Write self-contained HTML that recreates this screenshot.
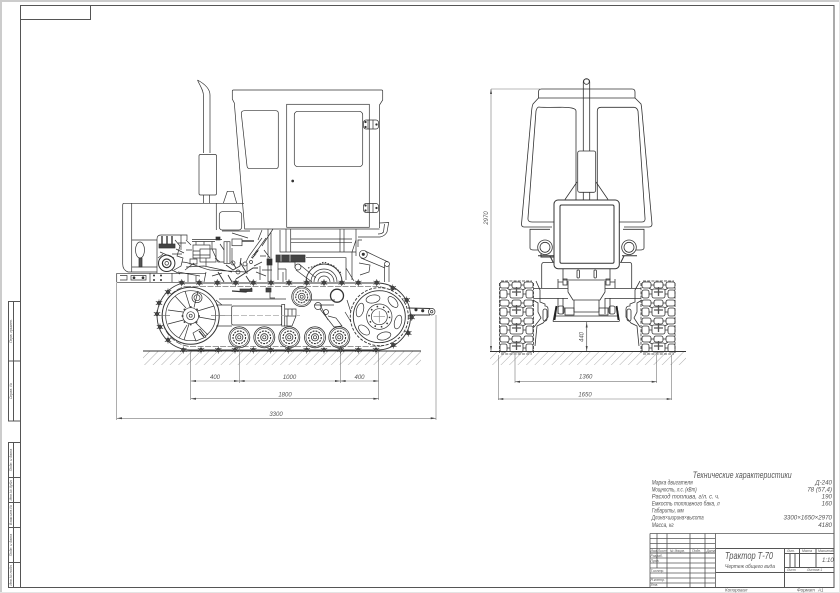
<!DOCTYPE html>
<html lang="ru"><head><meta charset="utf-8"><title>Трактор Т-70</title>
<style>html,body{margin:0;padding:0;background:#fff}svg{display:block;filter:blur(.3px)}text{font-family:"Liberation Sans","Noto Sans CJK SC",sans-serif;font-style:italic;stroke:none;fill:#555}</style></head>
<body>
<svg xmlns="http://www.w3.org/2000/svg" width="840" height="593" viewBox="0 0 840 593">
<defs>
<pattern id="h" width="6" height="6" patternUnits="userSpaceOnUse" patternTransform="rotate(45)"><line x1="0" y1="0" x2="0" y2="6" stroke="#999" stroke-width=".8"/></pattern>
<g id="b"><circle r="1.800" fill="#444"/><path d="M-3.200-1.800 3.200 1.800M-3.200 1.800 3.200-1.800M0-3.500V3.500" stroke="#444" stroke-width=".7"/></g>
<g id="rw" fill="none" stroke="#333"><circle r="10.500" stroke-width=".8"/><circle r="9" stroke-width=".6"/><circle r="6.300" stroke-width="1.100" stroke-dasharray="2 1"/><circle r="3.600" stroke-width=".8"/><circle r="1.600" stroke-width=".7"/></g>
<g id="tm" fill="none" stroke="#333" stroke-width=".8"><rect x="0" y="0" width="9" height="6" rx="2"/><rect x="12" y="0" width="9" height="6" rx="2"/><rect x="24" y="0" width="9" height="6" rx="2"/><rect x="0" y="8" width="7" height="8" rx="2"/><rect x="26" y="8" width="7" height="8" rx="2"/><rect x="10" y="7" width="13" height="9" rx="2"/><path d="M16.500 5V14M12 10H21" stroke-width="1.300" stroke="#555"/><path d="M7 6 10 8M26 6 23 8M7 12H10M23 12H26M9 3H12M21 3H24"/></g>
</defs>
<rect width="840" height="593" fill="#fff"/>
<path d="M1 593V1H840" fill="none" stroke="#ccc" stroke-width="2"/>
<path d="M839.500 0V592.500H0" fill="none" stroke="#e4e4e4"/>

<!-- frame -->
<g fill="none" stroke="#555" stroke-width="1">
<rect x="20.500" y="5.500" width="813.500" height="582"/>
<path d="M20.500 19.500H90.500V5.500"/>
<path d="M20.500 301.500H8.500V421H20.500M8.500 361H20.500M13.500 301.500V421"/>
<path d="M20.500 442.500H8.500V587.500H20.500M13.500 442.500V587.500M8.500 477.500H20.500M8.500 502.500H20.500M8.500 527.500H20.500M8.500 562.500H20.500"/>
</g>
<g font-size="3.600" text-anchor="middle">
<text transform="translate(12,331) rotate(-90)">Перв. примен.</text>
<text transform="translate(12,391) rotate(-90)">Справ. №</text>
<text transform="translate(12,460) rotate(-90)">Подп. и дата</text>
<text transform="translate(12,490) rotate(-90)">Инв.№ дубл.</text>
<text transform="translate(12,515) rotate(-90)">Взам.инв.№</text>
<text transform="translate(12,545) rotate(-90)">Подп. и дата</text>
<text transform="translate(12,575) rotate(-90)">Инв.№ подл.</text>
</g>

<!-- ground hatching -->
<rect x="143" y="351" width="278" height="14" fill="url(#h)"/>
<rect x="490" y="352" width="196" height="13" fill="url(#h)"/>
<path d="M143 351H421M490 351.500H686" stroke="#333" stroke-width=".9"/>

<!-- SIDE VIEW -->
<g fill="none" stroke="#333" stroke-width=".7">
<path d="M197.500 80C203 83 210 88 210 95V153M197.500 80C200 86 203.500 90 203.500 96V153"/>
<rect x="199" y="154.500" width="17.500" height="40.500" rx="1.500"/>
<path d="M203.500 195V203M209.500 195V203"/>
<path d="M233.500 90H381.500Q382.700 90 382.700 91V100L379.500 105V228M233.500 90Q232.300 90 232.300 91V99L234.300 103L244.700 229H379.500"/>
<rect x="286.700" y="104.300" width="82.600" height="123"/>
<rect x="294.300" y="111.300" width="68.400" height="55.400" rx="3.500"/>
<path d="M244.500 110.700H275.500Q278.300 110.700 278.300 113V166Q278.300 168.700 275.500 168.700H250Q247.300 168.700 247 166L241.300 113.500Q241.300 110.700 244.500 110.700Z"/>
<circle cx="292.700" cy="181" r="1" fill="#333"/>
<g><rect x="363.500" y="120" width="15" height="9" rx="2.500"/><path d="M368 120V129M373 120V129"/><circle cx="365.500" cy="122" r=".8" fill="#333"/><circle cx="365.500" cy="127" r=".8" fill="#333"/><circle cx="376.500" cy="124.500" r=".8" fill="#333"/></g>
<g transform="translate(0,83.500)"><rect x="363.500" y="120" width="15" height="9" rx="2.500"/><path d="M368 120V129M373 120V129"/><circle cx="365.500" cy="122" r=".8" fill="#333"/><circle cx="365.500" cy="127" r=".8" fill="#333"/><circle cx="376.500" cy="124.500" r=".8" fill="#333"/></g>
<path d="M379.500 223L388.700 222.500L387 232Q385 236 380 237H358M384.500 224L383.500 232Q382 234 378 234"/>
<path d="M244 203.300H124Q122.700 203.300 122.700 205V264Q122.700 270 128 272H157"/>
<path d="M131.700 203.300V272M216.300 203.300V230"/>
<rect x="219.300" y="211.700" width="22.400" height="18.300" rx="3"/>
<path d="M223.300 203.300 227.300 191.300H233.300L236.700 203.300"/>
<path d="M131.700 240H157M131.700 267H157"/>
<ellipse cx="140" cy="250" rx="4.500" ry="8"/>
<rect x="139" y="258" width="3" height="9" fill="#555"/>
<!-- under-cab tank -->
<path d="M286 229V252M290.700 229V252M340 229V252M344 229V252M356 229V256"/>
<path d="M290.700 239H352M290.700 242.300H352"/>
<path d="M280 230V252H356"/>
<circle cx="363.300" cy="254.300" r="4"/><circle cx="363.300" cy="254.300" r="1.200" fill="#333"/>
<path d="M365 251 388 262M361 258 385 268M384.500 265V282M389 265V282M359 263 370 265 369 272 360 275"/><circle cx="387" cy="264" r="2.500"/>
<path d="M356 240 352 252V280M362 240H358V247"/>

<!-- engine -->
<path d="M157 250V239Q157 235 161 235H187V240"/>
<path d="M162 236V246M167 236V246M172 236V246" stroke-width="1.400"/>
<rect x="159" y="244" width="16" height="4" fill="#444"/>
<circle cx="166.700" cy="263.300" r="8.200" stroke-width="1"/><circle cx="166.700" cy="263.300" r="4.300" stroke-width="1.200"/><circle cx="166.700" cy="263.300" r="1.800"/>
<path d="M175 240 180 246 177 256 183 258 181 266 174 270M181 235V250M178 243H186M172 254H182M176 249 184 253M160 252 174 258M158 258 163 254M172 270 180 274"/>
<path d="M157 250V273M186 240 191 245"/>
<rect x="193" y="245" width="17" height="13"/><rect x="200" y="249" width="16" height="13"/><path d="M192 239.500H222M192 241.500H215M193 251H200M193 255H210M206 258V266M196 245V241.500M204 245V241.500M212 249V241.500M190 259H197V264H190ZM186 250H192"/>
<rect x="216" y="237" width="4" height="3" fill="#333"/>
<rect x="224" y="241.700" width="6" height="21.700"/><path d="M227 241.700V263"/>
<rect x="232" y="239" width="10" height="6.700" fill="#fff"/><path d="M242 241H254" stroke-width="1.400"/>
<path d="M220 244 224 250M212 249 218 262H224M232 248V262M215 258 220 262M222 231H250M232 233 248 238"/>
<path d="M182 262C190 262 200 268 210 270L246 272M186 267 204 266 232 272M185 270 194 263M178 272 200 276M206 272 204 282M188 274V282M196 276V282"/>
<path d="M232 262 236 268M226 265 233 270 240 266 241 258M240 262 246 272M236 279 253 268 258 268M218 272 224 282M212 276 222 273M228 275 232 282M246 276 250 282" stroke-width=".9"/>
<circle cx="233" cy="263" r="2"/><circle cx="238" cy="272" r="2"/><circle cx="245" cy="264" r="2"/><circle cx="251" cy="262" r="1.500"/>
<path d="M252 258 258 250" stroke-width="2.200" stroke="#222" stroke-dasharray="1 .6"/>
<path d="M247 263V274M262 238 249 256 246 262M266 238 254 255M254 266 262 262M268 229V282M271 232V282M262 230 258 240M273 229 262 246M264 250 270 258"/>
<rect x="267" y="259" width="5" height="6" fill="#333"/>
<path d="M260 256H266M260 266V280M262 270H272M256 272 266 276"/>
<!-- valve block -->
<rect x="276" y="255" width="29" height="7" fill="#444"/>
<path d="M281 254V263M290 254V263" stroke="#ddd" stroke-width=".8"/>
<path d="M278 262V280M278 262H295M295 262V268M283 272V282M278 269H286M286 269V280"/>
<!-- gearbox -->
<path d="M306 257.700H346V280M346 268 354 281"/>
<path d="M306 282A18 18 0 0 1 342 282" stroke-width=".9"/>
<path d="M311 282A13 13 0 0 1 337 282M314 282A10 10 0 0 1 334 282M318 282A6 6 0 0 1 330 282"/>
<path d="M308 268 315 266 324 262 334 266 342 274" stroke-dasharray="1.500 1.500" stroke-width="1"/>
<circle cx="298" cy="267" r="3"/><path d="M299 264 316 278M296 270 312 282"/>
<!-- front bar -->
<path d="M116.700 273.300H206M116.700 282.300H180M116.700 273.300V282.300M120 275.500H127V280H120M131 275.500H146V280H131Z"/>
<circle cx="134" cy="277.700" r="1" fill="#333"/><circle cx="143" cy="277.700" r="1" fill="#333"/>
<path d="M150 273.300V282.300M172 273.300V282.300"/>
<g fill="#333" stroke="none"><circle cx="154" cy="275.500" r="1"/><circle cx="161" cy="275.500" r="1"/><circle cx="154" cy="280" r="1"/><circle cx="161" cy="280" r="1"/></g>
<!-- track -->
<path d="M183 283H377A33.500 33.500 0 0 1 377 350H190A34 34 0 0 1 183 283Z" stroke-width=".9"/>
<path d="M185 286.500H376A30 30 0 0 1 376 346.500H191A30.500 30.500 0 0 1 185 286.500Z" stroke-width=".6" stroke-dasharray="6 1.500"/>
<!-- idler -->
<circle cx="190.700" cy="315.700" r="28.500" stroke-width="1" fill="#fff"/>
<circle cx="190.700" cy="315.700" r="25"/>
<path d="M190 307 185 291M194 307.500 198 291M197.500 311 214 306M198.500 317 215.500 320M195 322 208 335M189 324 184 340M187 325 179 338M183.500 320 168 324M183 312 168 310M186 308 175 296"/>
<circle cx="190.700" cy="315.700" r="8"/><circle cx="190.700" cy="315.700" r="4"/><circle cx="190.700" cy="315.700" r="1.500"/>
<g fill="#444" stroke="none"><circle cx="190.700" cy="307" r="1"/><circle cx="197" cy="309.500" r="1"/><circle cx="199" cy="316" r="1"/><circle cx="196.500" cy="322" r="1"/><circle cx="190.700" cy="324.500" r="1"/><circle cx="184.500" cy="322" r="1"/><circle cx="182.500" cy="316" r="1"/><circle cx="184.500" cy="309.500" r="1"/></g>
<circle cx="197" cy="297.700" r="5"/><circle cx="197" cy="297.700" r="3"/>
<path d="M193 333 200 329 206 337 196 341Z" fill="#fff"/><path d="M199 331 204 337" stroke-width="1.200"/>
<path d="M160 315.700H170M211 315.700H232" stroke="#666"/>
<path d="M216 305H232M216 326H232M219 299H286M216 300 222 305"/>
<!-- cylinder -->
<rect x="231.700" y="306" width="50" height="19" rx="1.500" fill="#fff"/>
<rect x="281.700" y="304.500" width="3" height="21.500"/>
<path d="M285 309H296V316H285M288 309V316M292 309V316M287 316V326M296 316 292 326M292 326H284"/>
<path d="M225 315.700H300" stroke="#999" stroke-dasharray="6 2"/>
<!-- rollers -->
<g transform="translate(301.700,296.700) scale(.95)"><use href="#rw"/></g>
<circle cx="337" cy="295.700" r="6.500" stroke-width="1.300" fill="#fff"/>
<path d="M347 300 356 328M345 312 356 330M305 300 335 300M314 305H334M320 305 328 320"/>
<circle cx="318" cy="306" r="3.500"/><circle cx="326" cy="312" r="2.500"/>
<path d="M320 309 334 327 342 326 336 318 328 316"/>
<use href="#rw" x="239.300" y="337.300"/><use href="#rw" x="264.300" y="337.300"/><use href="#rw" x="289.300" y="337.300"/><use href="#rw" x="315" y="337.300"/><use href="#rw" x="339.300" y="337.300"/>
<!-- drive sprocket -->
<circle cx="379.300" cy="316.700" r="29" stroke-width=".9" stroke-dasharray="3 1.500" fill="#fff"/>
<circle cx="379.300" cy="316.700" r="26" stroke-width=".9"/>
<circle cx="379.300" cy="316.700" r="12.700"/><circle cx="379.300" cy="316.700" r="8"/>
<circle cx="379.300" cy="316.700" r="10.300" stroke-width="1.500" stroke-dasharray="1.500 5"/>
<path d="M379.300 311V322.500M373.500 316.700H385" stroke="#888"/>
<ellipse cx="373" cy="299" rx="7" ry="4" transform="rotate(-10 373 299)"/><ellipse cx="360" cy="310" rx="3.500" ry="7" transform="rotate(15 360 310)"/><ellipse cx="364" cy="330" rx="6.500" ry="3.700" transform="rotate(40 364 330)"/><ellipse cx="384" cy="336" rx="7" ry="3.800" transform="rotate(-15 384 336)"/><ellipse cx="398" cy="322" rx="3.500" ry="7" transform="rotate(15 398 322)"/><ellipse cx="393" cy="302" rx="3.500" ry="6.500" transform="rotate(-40 393 302)"/>
<!-- hitch -->
<path d="M408 308 430 308.500M409 315 430 315" stroke-width=".9"/><circle cx="431.700" cy="311.700" r="3.300"/><circle cx="431.700" cy="311.700" r="1.200"/>
<circle cx="416" cy="309.700" r="1.200" fill="#333"/><circle cx="422.700" cy="310.700" r="1.200" fill="#333"/>
<!-- links -->
<g>
<use href="#b" x="181.700" y="282.700"/><use href="#b" x="199.300" y="282.700"/><use href="#b" x="217.300" y="282.700"/><use href="#b" x="235.700" y="282.700"/><use href="#b" x="253.300" y="282.700"/><use href="#b" x="271" y="282.700"/><use href="#b" x="289" y="282.700"/><use href="#b" x="306.700" y="282.700"/><use href="#b" x="324" y="282.700"/><use href="#b" x="341.700" y="282.700"/><use href="#b" x="358.300" y="282.700"/><use href="#b" x="376.700" y="282.700"/>
<use href="#b" x="183.300" y="350"/><use href="#b" x="201" y="350"/><use href="#b" x="218.300" y="350"/><use href="#b" x="235" y="350"/><use href="#b" x="253.300" y="350"/><use href="#b" x="270.700" y="350"/><use href="#b" x="288.300" y="350"/><use href="#b" x="306.700" y="350"/><use href="#b" x="324" y="350"/><use href="#b" x="340.700" y="350"/><use href="#b" x="358.300" y="350"/><use href="#b" x="376" y="350"/>
<use href="#b" x="168" y="292"/><use href="#b" x="159" y="303"/><use href="#b" x="157" y="314"/><use href="#b" x="160" y="327"/><use href="#b" x="168" y="340"/>
<use href="#b" x="392.700" y="288"/><use href="#b" x="406.700" y="300"/><use href="#b" x="411.700" y="317.300"/><use href="#b" x="408.300" y="333"/><use href="#b" x="393.300" y="345"/>
</g>
<path d="M232 291 246 292 252 288" stroke-width="1.300"/>
<rect x="240" y="289" width="12" height="2.500" fill="#444"/><rect x="266" y="288" width="5" height="4" fill="#444"/><path d="M270 292V298H275"/>
</g>

<!-- FRONT VIEW -->
<g fill="none" stroke="#333" stroke-width=".8">
<path d="M538.500 98V92Q538.500 89 541.500 89H632Q635 89 635 92V98L641 104Q641.500 106 642 112L652 224Q652 227 649 227H624M538.500 98 533 104Q532 106 531.500 112L521.500 224Q521.500 227 524 227H552"/>
<path d="M538.500 98H635"/>
<path d="M539 107Q540 107.500 560 107.300Q576 107 576 111V222H532Q527.500 222 528 218L536 111Q537 107 539 107ZM601 107.300H634Q637 107.500 638 111L645 218Q645.500 222 642 222H597.300V111Q597.300 107.300 601 107.300Z"/>
<path d="M583.300 151V82Q583.300 79 586.500 79Q589.700 79 589.700 82V151"/><circle cx="586.500" cy="81.500" r="2.800"/>
<rect x="577.700" y="151" width="18" height="41.300" rx="2" fill="#fff"/>
<path d="M583.300 192.300V200M589.700 192.300V200"/>
<path d="M577 182 565 199.500M596 182 608 199.500"/>
<path d="M550 229.300H530V248Q530 250 534 250H539M623 229.300H644V248Q644 250 640 250H636"/>
<rect x="554" y="200" width="65.300" height="68.700" rx="4" fill="#fff" stroke-width="1"/>
<rect x="560" y="205" width="54" height="58.300" rx="1.500" stroke-width="1"/>
<circle cx="545" cy="247.300" r="7.300" fill="#fff"/><circle cx="545" cy="247.300" r="5"/><circle cx="629" cy="247.300" r="7.300" fill="#fff"/><circle cx="629" cy="247.300" r="5"/>
<path d="M538 255.700H554M622 255.700H637M541 254V257H554M550 256 553 262M624 256 621 262" stroke-width="1"/>
<path d="M554 262.500H544Q541.700 262.500 541.700 265V288M620 262.500H629.500Q631.700 262.500 631.700 265V288"/>
<path d="M563 269V280H610V269"/><rect x="577" y="270" width="2.400" height="8" rx="1"/><rect x="594" y="270" width="2.400" height="8" rx="1"/>
<path d="M568 281V292L573 300H600L605 292V281"/><path d="M574 300V312M599 300V312M574 312H599"/>
<path d="M534 288.500H568M605 288.500H641M534 298.500H568M605 298.500H641"/>
<path d="M558 279V288M615 279V288M563 282H558M610 282H615"/><rect x="563" y="279" width="4" height="6"/><rect x="606" y="279" width="4" height="6"/>
<path d="M553 321.500H619M555 316H617M556 306 553 321.500M617 306 619.500 321.500"/>
<path d="M556.500 306 554.500 320M616.500 306 618.500 320" stroke-width="1.800" stroke="#222"/>
<path d="M558 298V314M563 298V314M605 298V314M610 298V314"/>
<rect x="565" y="308" width="9" height="7"/><rect x="599" y="308" width="9" height="7"/>
<rect x="558" y="306" width="6" height="8" rx="2"/><rect x="609" y="306" width="6" height="8" rx="2"/>
<path d="M536 281 540 290V302L545 304V306Q548 306 548 309V317L543 323 537 326 535 346M640 281 635 290V302L630 304V306Q626 306 626 309V317L631 323 637 326 639 346"/>
<path d="M533 300 538 303V312L541 318 534 327M642 300 637 303V312L634 318 640 327"/>
<rect x="543" y="309" width="4" height="12" rx="2"/><rect x="627" y="309" width="4" height="12" rx="2"/>
<path d="M586.700 322V351" stroke="#555" stroke-width=".7"/>
</g>
<use href="#tm" x="500" y="282"/><use href="#tm" x="500" y="300"/><use href="#tm" x="500" y="318"/><use href="#tm" x="500" y="336"/>
<use href="#tm" x="642" y="282"/><use href="#tm" x="642" y="300"/><use href="#tm" x="642" y="318"/><use href="#tm" x="642" y="336"/>
<path d="M501 281H532M643 281H674M501 354H532M643 354H674M499.500 283V353M533.500 283V353M641 283V353M675 283V353" fill="none" stroke="#333" stroke-width=".8" stroke-dasharray="3 1.200"/>

<!-- DIMENSIONS -->
<g fill="none" stroke="#777" stroke-width=".6">
<path d="M190.700 351V400M239.300 348V383M340.300 348V383M378.700 351V400M116.700 283V420M436 315V420"/>
<path d="M190.700 381H378.700M190.700 398.700H378.700M116.700 418.300H436"/>
<path d="M491 89H540M491 89V351M515 355V383M656.700 355V383M498.300 355V400M671.700 355V400M515 381.700H656.700M498.300 399H671.700"/>
</g>
<g fill="#444" stroke="none">
<path d="M190.700 381 196 380V382ZM239.300 381 234 380V382ZM239.300 381 244.600 380V382ZM340.300 381 335 380V382ZM340.300 381 345.600 380V382ZM378.700 381 373.400 380V382Z"/>
<path d="M190.700 398.700 196 397.700V399.700ZM378.700 398.700 373.400 397.700V399.700ZM116.700 418.300 122 417.300V419.300ZM436 418.300 430.700 417.300V419.300Z"/>
<path d="M491 89 490 94H492ZM491 351 490 346H492ZM586.700 322.500 585.700 327.500H587.700ZM586.700 351 585.700 346H587.700Z"/>
<path d="M515 381.700 520 380.700V382.700ZM656.700 381.700 651.700 380.700V382.700ZM498.300 399 503.300 398V400ZM671.700 399 666.700 398V400Z"/>
</g>
<g font-size="6" text-anchor="middle">
<text x="215" y="379">400</text><text x="289.500" y="379">1000</text><text x="359.500" y="379">400</text><text x="285" y="396.500">1800</text><text x="276" y="416">3300</text>
<text x="585.700" y="378.500">1360</text><text x="585" y="396.500">1650</text>
<text transform="translate(488,218) rotate(-90)">2970</text>
<text transform="translate(583.500,337) rotate(-90)">440</text>
</g>

<!-- SPEC TABLE -->
<text x="692.700" y="478" font-size="9" textLength="99" lengthAdjust="spacingAndGlyphs">Технические характеристики</text>
<g font-size="6.200">
<text x="651.700" y="484.500" textLength="41" lengthAdjust="spacingAndGlyphs">Марка двигателя</text>
<text x="651.700" y="491.500" textLength="45" lengthAdjust="spacingAndGlyphs">Мощность, л.с. (кВт)</text>
<text x="651.700" y="498.500" textLength="68" lengthAdjust="spacingAndGlyphs">Расход топлива, г/л. с. ч.</text>
<text x="651.700" y="505.500" textLength="68" lengthAdjust="spacingAndGlyphs">Емкость топливного бака, л</text>
<text x="651.700" y="512.700" textLength="32" lengthAdjust="spacingAndGlyphs">Габариты, мм</text>
<text x="651.700" y="519.700" textLength="52" lengthAdjust="spacingAndGlyphs">Длина×ширина×высота</text>
<text x="651.700" y="527" textLength="22" lengthAdjust="spacingAndGlyphs">Масса, кг</text>
</g>
<g font-size="6.200" text-anchor="end">
<text x="832" y="484.500">Д-240</text><text x="832" y="491.500">78 (57,4)</text><text x="832" y="498.500">190</text><text x="832" y="505.500">160</text><text x="832" y="519.700">3300×1650×2970</text><text x="832" y="527">4180</text>
</g>

<!-- TITLE BLOCK -->
<g fill="none" stroke="#555" stroke-width=".8">
<path d="M650 533.500H834M650 533.500V587.500M715.500 533.500V587.500M650 538.500H715M650 543.500H715M650 548.500H715M650 558H715M650 563H715M650 568H715M650 573H715M650 578H715M650 583H715"/>
<path d="M657 533.500V568M667 533.500V587.500M690 533.500V587.500M705 533.500V587.500"/>
<path d="M650 553H715M715.500 548.500H834M784.500 548.500V587.500M715.500 572.500H834M784.500 567.500H834M784.500 553.500H834M799.500 548.500V567.500M816 548.500V567.500M790 553.500V567.500M795 553.500V567.500" stroke-width="1"/>
</g>
<g font-size="3.400">
<text x="650.500" y="552">Изм.Лист</text><text x="670" y="552">№ докум.</text><text x="692" y="552">Подп.</text><text x="706.500" y="552">Дата</text>
<text x="650.500" y="557">Разраб.</text><text x="650.500" y="562">Пров.</text><text x="650.500" y="572">Т.контр.</text><text x="650.500" y="581">Н.контр.</text><text x="650.500" y="586">Утв.</text>
<text x="787" y="552">Лит.</text><text x="802" y="552">Масса</text><text x="818" y="552">Масштаб</text>
<text x="787" y="571">Лист</text><text x="807" y="571">Листов 1</text>
</g>
<text x="725" y="559" font-size="10" textLength="48" lengthAdjust="spacingAndGlyphs">Трактор Т-70</text>
<text x="725" y="568" font-size="5.500" textLength="50" lengthAdjust="spacingAndGlyphs">Чертеж общего вида</text>
<text x="822" y="562" font-size="6">1:10</text>
<text x="725" y="591.500" font-size="4.500">Копировал</text>
<text x="797" y="591.500" font-size="4.500">Формат</text><text x="818" y="591.500" font-size="4.500">А1</text>
</svg>
</body></html>
